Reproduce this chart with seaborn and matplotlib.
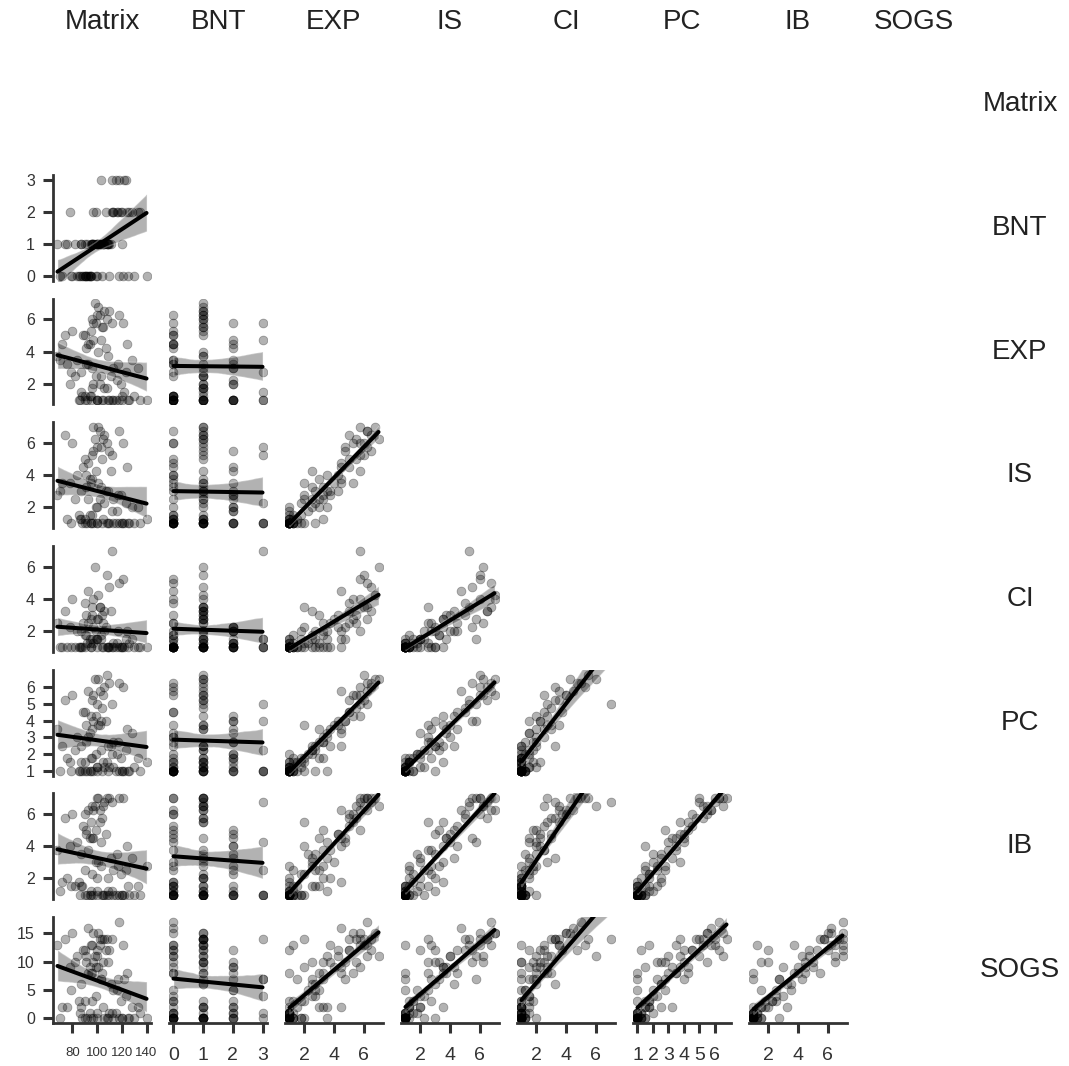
import matplotlib
matplotlib.use("Agg")
import matplotlib.pyplot as plt
from matplotlib.collections import PolyCollection
import pandas as pd
import seaborn as sns

variables = ["Matrix", "BNT", "EXP", "IS", "CI", "PC", "IB", "SOGS"]

matrix = [95, 90, 110, 88, 120, 105, 70, 115, 92, 130,
          85, 108, 100, 118, 76, 125, 97, 112, 90, 104,
          82, 122, 100, 95, 135, 72, 106, 140, 99, 113,
          87, 119, 93, 103, 128, 78, 109, 96, 116, 84,
          101, 123, 91, 107, 68, 111, 133, 94, 102, 117,
          89, 104, 97, 96, 80, 100, 93, 106, 99, 118,
          90, 105, 101, 91, 108, 95, 102, 112, 103, 110,
          74, 98, 124, 121, 97, 100, 109, 94, 113, 87,
          126, 86, 96, 120, 79]
bnt = [0, 1, 0, 0, 2, 1, 0, 3, 1, 0,
       0, 1, 1, 3, 1, 0, 1, 2, 0, 0,
       1, 3, 1, 0, 2, 0, 1, 0, 0, 2,
       1, 2, 0, 1, 2, 2, 1, 1, 2, 0,
       1, 3, 0, 2, 1, 1, 2, 0, 1, 2,
       0, 1, 2, 1, 0, 1, 0, 1, 2, 0,
       0, 1, 1, 0, 1, 1, 1, 3, 3, 1,
       1, 1, 2, 0, 1, 0, 1, 0, 2, 1,
       2, 0, 1, 1, 0]
exp = [1, 1, 1, 1.25, 1, 1, 3.5, 1, 1, 1.25,
       1, 1.75, 1, 1, 3.25, 1, 2, 1, 1.25, 1,
       2.5, 1.5, 1, 1.25, 1, 4.5, 1.75, 1, 2.5, 3,
       2.75, 2, 3.25, 2.5, 3.5, 2, 3.75, 3, 2.25, 3.5,
       4, 2.75, 3.25, 4.25, 3.75, 2.5, 3, 4.5, 2, 3.25,
       5, 5.5, 4.75, 6, 5.25, 6.25, 4.5, 6.5, 5.75, 6.25,
       5, 5.5, 6.75, 4.25, 6, 5.25, 6.25, 5.75, 4.75, 6.5,
       5, 7, 4.5, 5.75, 5.75, 1, 1, 1.25, 1, 1.5,
       1, 1, 1.75, 1.25, 2.75]
is_ = [1, 1, 1, 1, 1, 1.25, 3, 1, 1, 1,
       1.5, 1, 1, 1, 1.25, 1, 1, 1.75, 1.25, 1,
       2.5, 1, 2, 1, 1, 3.5, 2.25, 1.25, 2, 2.5,
       3, 2.75, 2.5, 3.25, 2, 3.5, 3, 3.75, 1.75, 4,
       3.5, 2.25, 3.25, 3, 2.75, 4.25, 2, 3.75, 2.5, 2.75,
       4.5, 5, 5.5, 5.25, 6, 5.75, 4.75, 6.5, 4.25, 6.75,
       5, 6.25, 7, 4, 6, 3.5, 6.75, 5.25, 5.75, 5.5,
       6.5, 6.25, 4.5, 6, 7, 1, 1, 1.5, 1, 1.25,
       1, 1.25, 1.5, 1, 1]
ci = [1, 1, 1, 1, 1, 1, 1, 1, 1.25, 1,
      1, 1, 1.5, 1, 1, 1, 1.25, 1, 1.75, 1,
      1, 1, 1.5, 1, 1, 1, 2, 1, 1.5, 1.25,
      2, 1, 2.5, 1.75, 1.5, 2.25, 1, 3, 1.25, 2,
      2.75, 1.5, 1.75, 2.25, 2.5, 3.25, 1, 1.5, 3.5, 2,
      2.5, 3, 2.25, 3.5, 4, 2.75, 4.5, 3.25, 2, 5,
      3.75, 2.5, 4.25, 3, 5.5, 2.75, 3.5, 7, 1.5, 4.75,
      3.25, 6, 2, 5.25, 4, 1, 1, 1.25, 1, 1,
      1.25, 1, 1.5, 1, 1]
pc = [1, 1, 1.25, 1, 1, 1.5, 1, 1, 1, 1.25,
      1, 1.5, 1.25, 1, 1.75, 1, 1, 2, 1.5, 1,
      2.25, 1, 1.25, 1.75, 1, 2.5, 1.25, 1.5, 2, 2.75,
      2.5, 1.75, 3, 2.25, 3.25, 1.5, 2.5, 3.5, 2, 3,
      3.75, 2.25, 2.75, 4, 3.5, 2.5, 1.75, 3.25, 3.75, 2.75,
      4.5, 4.75, 4, 5.25, 5.5, 5, 5.75, 6, 4.25, 6.25,
      4.5, 5.5, 6.5, 3.75, 6.75, 4.25, 5.75, 5, 4, 6.25,
      5.25, 6.5, 3.5, 6, 5.5, 1, 1, 1, 1.25, 1.5,
      1, 1, 1.75, 1, 1]
ib = [1, 1, 1, 1.5, 1, 1, 1.25, 1, 1, 1,
      1.75, 1, 1.25, 1, 2, 1.5, 1, 1.25, 2.5, 1,
      1.5, 1, 2, 1.25, 1, 1.75, 1, 2.75, 3, 2.5,
      3.5, 2.25, 3.75, 2.75, 3.25, 4, 2, 4.5, 3.5, 4.25,
      3, 2.5, 5, 4.75, 3.75, 3.25, 1.5, 4.5, 5.5, 2.75,
      5.25, 5.75, 4.5, 6.5, 6, 7, 6.25, 6.75, 5, 7,
      6, 6.5, 7, 4.75, 7, 5.5, 6.25, 6.75, 4.25, 7,
      5.75, 6.5, 4, 7, 6.25, 1, 1.25, 1, 1, 1.5,
      1, 1, 2.25, 1, 1.5]
sogs = [0, 0, 1, 0, 0, 2, 0, 1, 0, 0,
        3, 0, 1, 0, 2, 0, 0, 1, 3, 8,
        10, 7, 12, 13, 1, 2, 0, 0, 4, 5,
        6, 3, 8, 7, 2, 9, 10, 8, 5, 11,
        9, 4, 10, 12, 13, 6, 2, 9, 14, 7,
        12, 14, 10, 13, 15, 11, 16, 14, 9, 17,
        12, 10, 15, 11, 14, 8, 13, 14, 7, 12,
        14, 11, 8, 13, 15, 0, 0, 1, 0, 2,
        0, 1, 3, 0, 5]

df = pd.DataFrame({"Matrix": matrix, "BNT": bnt, "EXP": exp, "IS": is_,
                   "CI": ci, "PC": pc, "IB": ib, "SOGS": sogs})

tick_values = {
    "Matrix": [80, 100, 120, 140],
    "BNT": [0, 1, 2, 3],
    "EXP": [2, 4, 6],
    "IS": [2, 4, 6],
    "CI": [2, 4, 6],
    "PC": [1, 2, 3, 4, 5, 6],
    "IB": [2, 4, 6],
    "SOGS": [0, 5, 10, 15],
}

sns.set_theme(style="ticks")
plt.rcParams["font.family"] = ["Liberation Sans", "DejaVu Sans"]

ink = "#333333"
n = len(variables)
fig, axes = plt.subplots(n, n, figsize=(10.69, 10.66), dpi=100,
                         sharex="col", sharey="row")
fig.subplots_adjust(left=0.0496, right=0.9008, bottom=0.0403, top=0.952,
                    wspace=0.184, hspace=0.168)

for i, yvar in enumerate(variables):
    for j, xvar in enumerate(variables):
        ax = axes[i, j]
        if j >= i:
            ax.set_visible(False)
            continue
        sns.regplot(data=df, x=xvar, y=yvar, ax=ax, color="black", seed=0,
                    scatter_kws=dict(s=40, alpha=0.3, linewidths=0.6),
                    line_kws=dict(lw=2.9))
        for coll in ax.collections:
            if isinstance(coll, PolyCollection):
                coll.set_alpha(0.3)
        ax.set_xlabel("")
        ax.set_ylabel("")
        ax.spines["top"].set_visible(False)
        ax.spines["right"].set_visible(False)
        for side in ("left", "bottom"):
            ax.spines[side].set_linewidth(2.0)
            ax.spines[side].set_color(ink)
        ax.tick_params(length=7, width=2.2, color=ink, labelcolor=ink)
        ax.tick_params(axis="y", pad=6)
        ax.tick_params(axis="x", pad=10)
        ax.set_xticks(tick_values[xvar])
        ax.set_yticks(tick_values[yvar])
        if i < n - 1:
            ax.spines["bottom"].set_visible(False)
            ax.tick_params(axis="x", bottom=False, labelbottom=False)
        else:
            ax.tick_params(axis="x", labelbottom=True,
                           labelsize=9.5 if xvar == "Matrix" else 14)
        if j > 0:
            ax.spines["left"].set_visible(False)
            ax.tick_params(axis="y", left=False, labelleft=False)
        else:
            ax.tick_params(axis="y", labelleft=True, labelsize=11.5)

# keep each axis to the spread of its own data; fitted lines are clipped
for k, var in enumerate(variables):
    lo, hi = df[var].min(), df[var].max()
    pad = 0.05 * (hi - lo)
    axes[n - 1, k].set_xlim(lo - pad, hi + pad)
    axes[k, 0].set_ylim(lo - pad, hi + pad)

# column names along the top, row names along the right edge
for j, name in enumerate(variables):
    pos = axes[n - 1, j].get_position()
    fig.text((pos.x0 + pos.x1) / 2, 1 - 22 / 1066, name, ha="center",
             va="center", fontsize=20, color="#222222")
for i, name in enumerate(variables):
    pos = axes[i, 0].get_position()
    fig.text(1020 / 1069, (pos.y0 + pos.y1) / 2, name, ha="center",
             va="center", fontsize=20, color="#222222")

fig.savefig("out.png", dpi=100, facecolor="white")
